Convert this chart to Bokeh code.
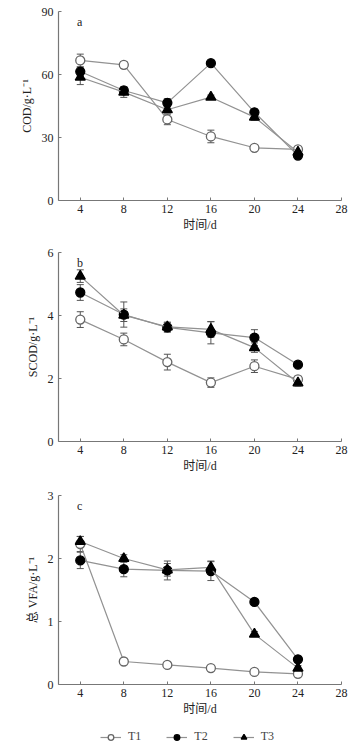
from bokeh.plotting import figure
from bokeh.layouts import column
from bokeh.models import Whisker, ColumnDataSource, Label, Legend, LegendItem, FixedTicker
from bokeh.embed import file_html
from bokeh.resources import INLINE

days = [4, 8, 12, 16, 20, 24]

# Panel a: COD (g/L)
cod_t1 = [66.7, 64.6, 38.6, 30.5, 25.1, 24.3]
cod_t1_err = [3.0, 1.5, 2.5, 3.0, 1.0, 1.0]
cod_t2 = [61.4, 52.4, 46.5, 65.4, 42.0, 21.4]
cod_t2_err = [2.0, 1.5, 2.0, 1.0, 1.5, 1.0]
cod_t3 = [58.7, 51.6, 43.2, 49.2, 39.7, 23.0]
cod_t3_err = [3.5, 2.5, 1.5, 1.0, 1.5, 1.0]

# Panel b: SCOD (g/L)
scod_t1 = [3.87, 3.24, 2.52, 1.87, 2.39, 1.97]
scod_t1_err = [0.25, 0.2, 0.25, 0.15, 0.2, 0.1]
scod_t2 = [4.73, 4.03, 3.62, 3.45, 3.30, 2.44]
scod_t2_err = [0.25, 0.4, 0.15, 0.35, 0.25, 0.08]
scod_t3 = [5.25, 4.01, 3.64, 3.56, 2.98, 1.86]
scod_t3_err = [0.2, 0.2, 0.15, 0.25, 0.15, 0.1]

# Panel c: total VFA (g/L)
vfa_t1 = [2.23, 0.365, 0.31, 0.26, 0.20, 0.17]
vfa_t1_err = [0.12, 0.03, 0.03, 0.04, 0.03, 0.03]
vfa_t2 = [1.97, 1.83, 1.81, 1.80, 1.31, 0.40]
vfa_t2_err = [0.13, 0.12, 0.15, 0.15, 0.05, 0.04]
vfa_t3 = [2.27, 2.00, 1.82, 1.86, 0.80, 0.26]
vfa_t3_err = [0.08, 0.06, 0.1, 0.1, 0.04, 0.04]

x_ticks = [4, 8, 12, 16, 20, 24, 28]
series_names = ["T1", "T2", "T3"]

SERIF = "Liberation Serif"
SERIF_CJK = "Liberation Serif, Noto Sans CJK SC"
LINE_C = "#929292"
AX_C = "#777777"

STYLES = [
    dict(marker="circle", fill_color="white", line_color="#666666", size=9),
    dict(marker="circle", fill_color="black", line_color="black", size=9),
    dict(marker="triangle", fill_color="black", line_color="black", size=10),
]

W = 364
BL, BR = 58, 23


def make_panel(letter, ylabel, ymax, yticks, data, height, top, bottom):
    p = figure(width=W, height=height, x_range=(2, 28), y_range=(0, ymax),
               output_backend="svg", toolbar_location=None,
               min_border_left=BL, min_border_right=BR,
               min_border_top=top, min_border_bottom=bottom)
    p.outline_line_color = None
    p.xgrid.visible = False
    p.ygrid.visible = False
    for ax in (p.xaxis, p.yaxis):
        ax.axis_line_color = AX_C
        ax.axis_line_width = 1.2
        ax.major_tick_line_color = AX_C
        ax.major_tick_in = 3
        ax.major_tick_out = 0
        ax.minor_tick_line_color = None
        ax.major_label_text_font = SERIF
        ax.major_label_text_font_size = "12px"
        ax.major_label_text_color = "#222222"
        ax.axis_label_text_font = SERIF_CJK
        ax.axis_label_text_font_style = "normal"
        ax.axis_label_text_font_size = "12px"
        ax.axis_label_text_color = "#222222"
    p.xaxis.ticker = FixedTicker(ticks=x_ticks)
    p.yaxis.ticker = FixedTicker(ticks=yticks)
    p.xaxis.axis_label = "时间/d"
    p.xaxis.major_label_standoff = 4
    p.xaxis.axis_label_standoff = 2
    p.yaxis.axis_label = ylabel
    p.yaxis.major_label_standoff = 5
    p.yaxis.axis_label_standoff = 5

    for (vals, errs), st in zip(data, STYLES):
        src = ColumnDataSource(dict(x=days, y=vals,
                                    lo=[v - e for v, e in zip(vals, errs)],
                                    hi=[v + e for v, e in zip(vals, errs)]))
        p.line("x", "y", source=src, line_color=LINE_C, line_width=1.2)
        w = Whisker(source=src, base="x", lower="lo", upper="hi",
                    line_color="#555555", line_width=1)
        w.upper_head.size = 7
        w.lower_head.size = 7
        w.upper_head.line_color = "#555555"
        w.lower_head.line_color = "#555555"
        p.add_layout(w)
        p.scatter("x", "y", source=src, marker=st["marker"], size=st["size"],
                  fill_color=st["fill_color"], line_color=st["line_color"],
                  line_width=1.3)

    p.add_layout(Label(x=3.7, y=ymax * 0.942, text=letter, text_font=SERIF,
                       text_font_size="12px", text_baseline="middle",
                       text_color="#222222"))
    return p


pa = make_panel("a", "COD/g·L⁻¹", 90, [0, 30, 60, 90],
                [(cod_t1, cod_t1_err), (cod_t2, cod_t2_err), (cod_t3, cod_t3_err)],
                238, 11, 38)
pb = make_panel("b", "SCOD/g·L⁻¹", 6, [0, 2, 4, 6],
                [(scod_t1, scod_t1_err), (scod_t2, scod_t2_err), (scod_t3, scod_t3_err)],
                242, 14, 39)
pc = make_panel("c", "总 VFA/g·L⁻¹", 3, [0, 1, 2, 3],
                [(vfa_t1, vfa_t1_err), (vfa_t2, vfa_t2_err), (vfa_t3, vfa_t3_err)],
                244, 15, 40)

# Legend strip: the series are drawn outside its visible range, only swatches show
pl = figure(width=W, height=25, x_range=(100, 101), y_range=(100, 101),
            output_backend="svg", toolbar_location=None,
            min_border_left=BL, min_border_right=BR,
            min_border_top=0, min_border_bottom=0)
pl.axis.visible = False
pl.grid.visible = False
pl.outline_line_color = None
items = []
for vals, st, name in zip([vfa_t1, vfa_t2, vfa_t3], STYLES, series_names):
    ln = pl.line(days, vals, line_color=LINE_C, line_width=1.2)
    sc = pl.scatter(days, vals, marker=st["marker"], size=st["size"],
                    fill_color=st["fill_color"], line_color=st["line_color"],
                    line_width=1.3)
    items.append(LegendItem(label=name, renderers=[ln, sc]))
lg = Legend(items=items, orientation="horizontal", location=(42, 5),
            glyph_width=21, glyph_height=14, label_text_font=SERIF,
            label_text_font_size="12px", label_standoff=7, label_height=14,
            label_width=12, spacing=25, padding=0, margin=0,
            border_line_color=None, background_fill_alpha=0)
pl.add_layout(lg)

layout = column(pa, pb, pc, pl, spacing=0)
open("out.html", "w").write(file_html(layout, INLINE))
